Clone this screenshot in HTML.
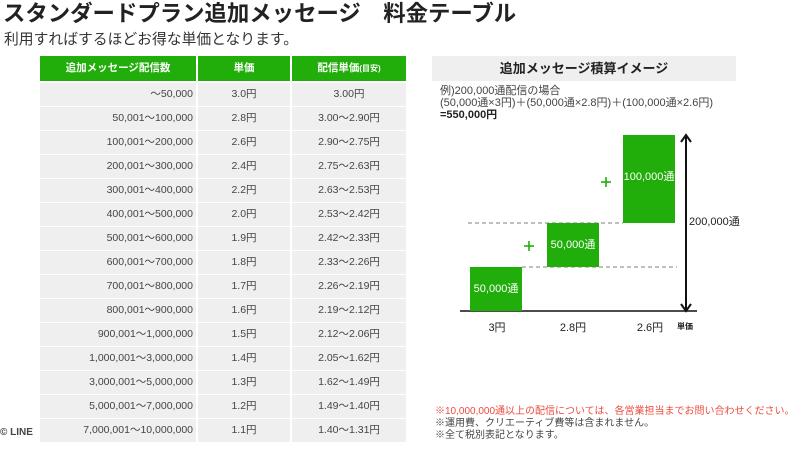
<!DOCTYPE html>
<html><head><meta charset="utf-8">
<style>
*{margin:0;padding:0;box-sizing:border-box;}
body{width:800px;height:453px;background:#fff;position:relative;overflow:hidden;font-family:"Liberation Sans","Noto Sans CJK JP",sans-serif;color:#333;}
.a{position:absolute;white-space:nowrap;}
.c{position:absolute;background:#efefef;font-size:10.5px;line-height:23px;height:23px;color:#444;}
.h{position:absolute;background:#22ae0a;color:#fff;font-weight:bold;font-size:10.5px;line-height:25px;height:25px;text-align:center;top:56px;}
.bar{position:absolute;background:#22ae0a;color:#fff;font-size:11px;text-align:center;}
</style></head><body>
<div class="a" style="left:3px;top:0px;font-size:22.4px;font-weight:bold;color:#222;line-height:28px;">スタンダードプラン追加メッセージ　料金テーブル</div>
<div class="a" style="left:4px;top:31px;font-size:14.8px;color:#333;line-height:18px;">利用すればするほどお得な単価となります。</div>

<div class="h" style="left:40px;width:156px;">追加メッセージ配信数</div>
<div class="h" style="left:198px;width:92px;">単価</div>
<div class="h" style="left:292px;width:114px;">配信単価<span style="font-size:8px">(目安)</span></div>

<div id="rows"></div>
<script>
var d=[["～50,000","3.0円","3.00円"],["50,001～100,000","2.8円","3.00～2.90円"],["100,001～200,000","2.6円","2.90～2.75円"],["200,001～300,000","2.4円","2.75～2.63円"],["300,001～400,000","2.2円","2.63～2.53円"],["400,001～500,000","2.0円","2.53～2.42円"],["500,001～600,000","1.9円","2.42～2.33円"],["600,001～700,000","1.8円","2.33～2.26円"],["700,001～800,000","1.7円","2.26～2.19円"],["800,001～900,000","1.6円","2.19～2.12円"],["900,001～1,000,000","1.5円","2.12～2.06円"],["1,000,001～3,000,000","1.4円","2.05～1.62円"],["3,000,001～5,000,000","1.3円","1.62～1.49円"],["5,000,001～7,000,000","1.2円","1.49～1.40円"],["7,000,001～10,000,000","1.1円","1.40～1.31円"]];
var h="";
for(var i=0;i<d.length;i++){var t=83+i*24;
h+='<div class="c" style="left:40px;width:156px;top:'+t+'px;text-align:right;padding-right:3px;">'+d[i][0]+'</div>';
h+='<div class="c" style="left:198px;width:92px;top:'+t+'px;text-align:center;">'+d[i][1]+'</div>';
h+='<div class="c" style="left:292px;width:114px;top:'+t+'px;text-align:center;">'+d[i][2]+'</div>';}
document.getElementById("rows").innerHTML=h;
</script>

<div class="a" style="left:0px;top:427px;font-size:10px;font-weight:bold;color:#444;">© LINE</div>

<div class="a" style="left:432px;top:56px;width:304px;height:25px;background:#efefef;text-align:center;font-weight:bold;font-size:13px;line-height:25px;color:#222;">追加メッセージ積算イメージ</div>
<div class="a" style="left:440px;top:85px;font-size:11px;line-height:12px;color:#444;">例)200,000通配信の場合<br>(50,000通×3円)＋(50,000通×2.8円)＋(100,000通×2.6円)<br><b style="color:#222">=550,000円</b></div>

<svg class="a" style="left:0;top:0" width="800" height="453">
<line x1="468" y1="223" x2="623" y2="223" stroke="#999" stroke-width="1.2" stroke-dasharray="4,3"/>
<line x1="522" y1="267" x2="677" y2="267" stroke="#999" stroke-width="1.2" stroke-dasharray="4,3"/>
<line x1="460" y1="311" x2="697" y2="311" stroke="#111" stroke-width="1.5"/>
<line x1="686" y1="137" x2="686" y2="309" stroke="#111" stroke-width="2"/>
<polyline points="681,142 686,135 691,142" fill="none" stroke="#111" stroke-width="2"/>
<polyline points="681,304 686,311 691,304" fill="none" stroke="#111" stroke-width="2"/>
<g stroke="#22ae0a" stroke-width="1.6">
<line x1="524" y1="246" x2="534" y2="246"/><line x1="529" y1="241" x2="529" y2="251"/>
<line x1="601" y1="182" x2="611" y2="182"/><line x1="606" y1="177" x2="606" y2="187"/>
</g>
</svg>
<div class="bar" style="left:470px;top:267px;width:52px;height:44px;line-height:44px;">50,000通</div>
<div class="bar" style="left:547px;top:223px;width:52px;height:44px;line-height:44px;">50,000通</div>
<div class="bar" style="left:623px;top:135px;width:52px;height:88px;line-height:84px;">100,000通</div>
<div class="a" style="left:689px;top:213px;font-size:11px;color:#222;">200,000通</div>
<div class="a" style="left:485px;top:319px;width:24px;text-align:center;font-size:11px;color:#222;">3円</div>
<div class="a" style="left:557px;top:319px;width:32px;text-align:center;font-size:11px;color:#222;">2.8円</div>
<div class="a" style="left:634px;top:319px;width:32px;text-align:center;font-size:11px;color:#222;">2.6円</div>
<div class="a" style="left:677px;top:321px;font-size:8px;color:#222;font-weight:bold;">単価</div>

<div class="a" style="left:435px;top:406px;font-size:10px;line-height:12px;color:#444;"><span style="color:#ee4b3e">※10,000,000通以上の配信については、各営業担当までお問い合わせください。</span><br>※運用費、クリエーティブ費等は含まれません。<br>※全て税別表記となります。</div>
</body></html>
